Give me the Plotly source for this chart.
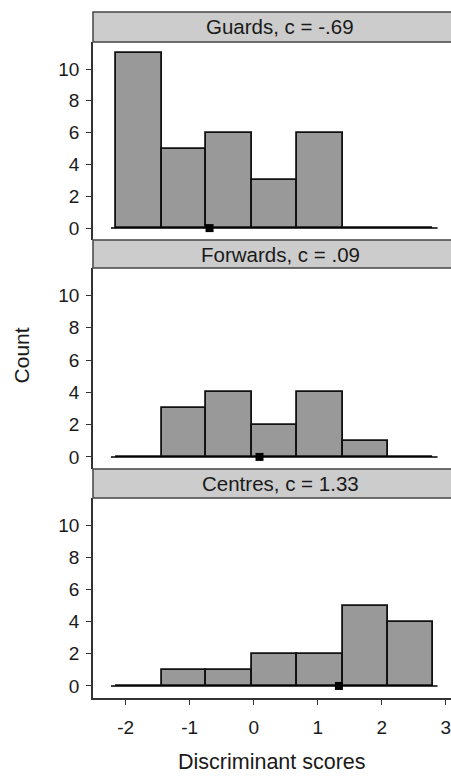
import plotly.graph_objects as go
from plotly.subplots import make_subplots

# Histogram bins of discriminant scores (shared by all groups)
bin_edges = [-2.15, -1.44, -0.74, -0.03, 0.68, 1.39, 2.09, 2.80]

groups = ["Guards", "Forwards", "Centres"]
guards_counts = [11, 5, 6, 3, 6, 0, 0]
forwards_counts = [0, 3, 4, 2, 4, 1, 0]
centres_counts = [0, 1, 1, 2, 2, 5, 4]
centroids = [-0.69, 0.09, 1.33]
centroid_labels = ["-.69", ".09", "1.33"]

baseline_x = [-2.23, 2.87]
x_ticks = [-2, -1, 0, 1, 2, 3]
x_tick_text = ["-2", "-1", "0", "1", "2", "3"]
y_ticks = [0, 2, 4, 6, 8, 10]

counts = [guards_counts, forwards_counts, centres_counts]

FONT = "Liberation Sans, Arial, sans-serif"
BAR_FILL = "#999999"
STRIP_FILL = "#cccccc"
TEXT = "#1a1a1a"

centers = [(a + b) / 2 for a, b in zip(bin_edges[:-1], bin_edges[1:])]
widths = [b - a for a, b in zip(bin_edges[:-1], bin_edges[1:])]

fig = make_subplots(rows=3, cols=1, shared_xaxes=True, vertical_spacing=0.02)

# panel plot domains and header strip domains (paper fractions)
plot_domains = [[0.6676, 0.9563], [0.3338, 0.6268], [0.0, 0.2915]]
strip_domains = [[0.9563, 1.0], [0.6268, 0.6676], [0.2915, 0.3338]]

for i, (name, cnt, c, lab) in enumerate(zip(groups, counts, centroids, centroid_labels)):
    row = i + 1
    fig.add_trace(go.Scatter(x=baseline_x, y=[0, 0], mode="lines",
                             line=dict(color="black", width=1.5),
                             hoverinfo="skip", showlegend=False), row=row, col=1)
    fig.add_trace(go.Bar(x=centers, y=cnt, width=widths,
                         marker=dict(color=BAR_FILL, line=dict(color="#111", width=1.8)),
                         showlegend=False), row=row, col=1)
    fig.add_trace(go.Scatter(x=[c], y=[0], mode="markers",
                             marker=dict(symbol="square", size=8, color="black"),
                             cliponaxis=False, showlegend=False), row=row, col=1)

    fig.update_yaxes(row=row, col=1, domain=plot_domains[i], range=[-0.75, 11.7],
                     tickvals=y_ticks, ticks="outside", ticklen=5, tickwidth=1,
                     tickcolor="#333", showline=True, linecolor="#333", linewidth=1.5,
                     showgrid=False, zeroline=False, ticklabelstandoff=3,
                     tickfont=dict(family=FONT, size=19, color=TEXT))

    # header strip with group title
    fig.add_shape(type="rect", xref="paper", yref="paper",
                  x0=0, x1=1.06, y0=strip_domains[i][0], y1=strip_domains[i][1],
                  fillcolor=STRIP_FILL, line=dict(color="#444", width=1.5), layer="above")
    fig.add_annotation(xref="paper", yref="paper", x=0.5225,
                       y=(strip_domains[i][0] + strip_domains[i][1]) / 2,
                       text=f"{name}, c = {lab}", showarrow=False,
                       font=dict(family=FONT, size=20.5, color=TEXT),
                       xanchor="center", yanchor="middle")

for row in (1, 2):
    fig.update_xaxes(row=row, col=1, showline=False, ticks="", showticklabels=False,
                     showgrid=False, zeroline=False)

fig.update_xaxes(range=[-2.51, 3.08], showgrid=False, zeroline=False)
fig.update_xaxes(row=3, col=1, tickvals=x_ticks, ticktext=x_tick_text,
                 ticks="outside", ticklen=5, ticklabelstandoff=6,
                 ticklabeloverflow="allow",
                 tickcolor="#333", showline=True, linecolor="#333", linewidth=1.5,
                 showticklabels=True, tickfont=dict(family=FONT, size=19, color=TEXT))

fig.add_annotation(xref="paper", yref="paper", x=0.5, y=-0.093,
                   text="Discriminant scores", showarrow=False,
                   font=dict(family=FONT, size=21.5, color=TEXT),
                   xanchor="center", yanchor="middle")
fig.add_annotation(xref="paper", yref="paper", x=-0.2, y=0.5,
                   text="Count", showarrow=False, textangle=-90,
                   font=dict(family=FONT, size=21, color=TEXT),
                   xanchor="center", yanchor="middle")

fig.update_layout(width=451, height=776, bargap=0,
                  margin=dict(l=93, r=0, t=12, b=78),
                  plot_bgcolor="white", paper_bgcolor="white")

fig.write_html("out.html")
